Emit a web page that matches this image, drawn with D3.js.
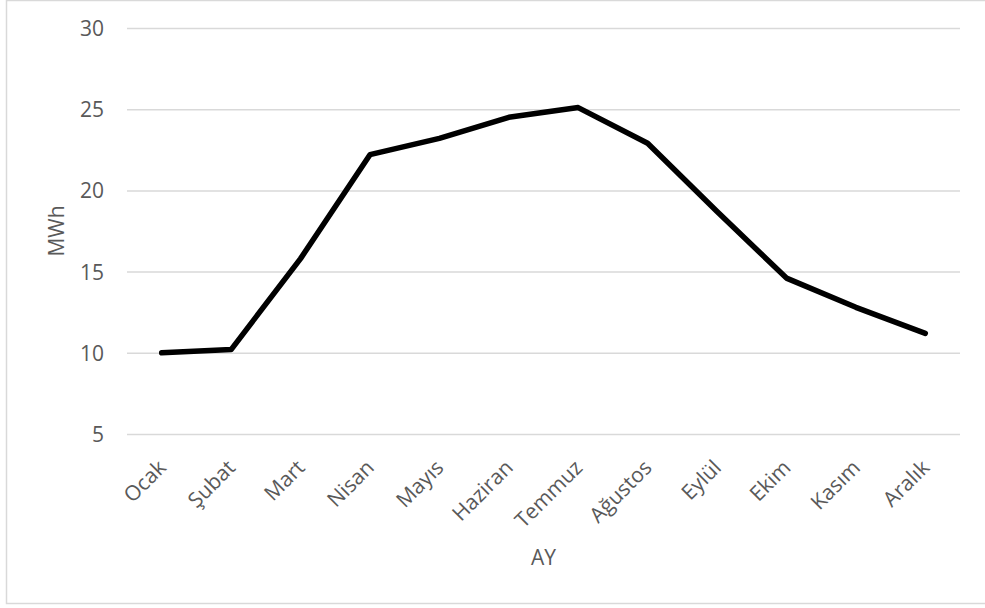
<!DOCTYPE html>
<html>
<head>
<meta charset="utf-8">
<script src="https://cdn.jsdelivr.net/npm/d3@7"></script>
<style>
  html, body { margin: 0; padding: 0; background: #fff; }
  svg { display: block; }
</style>
</head>
<body>
<svg id="chart" width="985" height="608"></svg>
<script>
// Monthly energy output (MWh)
const months = ["Ocak", "Şubat", "Mart", "Nisan", "Mayıs", "Haziran",
                "Temmuz", "Ağustos", "Eylül", "Ekim", "Kasım", "Aralık"];
const values = [10.0, 10.2, 15.8, 22.2, 23.2, 24.5, 25.1, 22.9, 18.7, 14.6, 12.8, 11.2];
const yTicks = [5, 10, 15, 20, 25, 30];
const yTitle = "MWh";
const xTitle = "AY";

const FONT = "'Open Sans', 'Noto Sans', sans-serif";
const svg = d3.select("#chart").attr("font-family", FONT);
const W = 985, H = 608;
const plot = { left: 127, right: 960, top: 28, bottom: 434 };
const textColor = "#595959";
const gridColor = "#d9d9d9";

// chart frame
svg.append("path")
  .attr("d", `M${W},0.5 H6.5 V603.5 H${W}`)
  .attr("fill", "none")
  .attr("stroke", gridColor)
  .attr("stroke-width", 1.5);

const x = d3.scalePoint()
  .domain(months)
  .range([plot.left, plot.right])
  .padding(0.5);

const y = d3.scaleLinear()
  .domain([5, 30])
  .range([plot.bottom, plot.top]);

// horizontal gridlines + y labels
const yAxis = d3.axisLeft(y)
  .tickValues(yTicks)
  .tickSize(-(plot.right - plot.left))
  .tickPadding(23)
  .tickFormat(d3.format("d"));

const gy = svg.append("g")
  .attr("transform", `translate(${plot.left},0)`)
  .call(yAxis)
  .attr("font-family", FONT)
  .attr("font-size", 21);
gy.select(".domain").remove();
gy.selectAll(".tick line").attr("stroke", gridColor).attr("stroke-width", 1.5);
gy.selectAll(".tick text")
  .attr("fill", textColor)
  .attr("dy", "0.36em");

// x category labels, rotated
const xAxis = d3.axisBottom(x).tickSize(0).tickPadding(0);
const gx = svg.append("g")
  .attr("transform", `translate(0,${plot.bottom})`)
  .call(xAxis)
  .attr("font-family", FONT)
  .attr("font-size", 21);
gx.select(".domain").remove();
gx.selectAll(".tick text")
  .attr("fill", textColor)
  .attr("text-anchor", "end")
  .attr("dy", 0)
  .attr("y", 0)
  .attr("transform", "translate(5,35) rotate(-45)");

// the series line
const line = d3.line()
  .x((d, i) => x(months[i]))
  .y(d => y(d));

svg.append("path")
  .datum(values)
  .attr("d", line)
  .attr("fill", "none")
  .attr("stroke", "#000")
  .attr("stroke-width", 5.5)
  .attr("stroke-linejoin", "round")
  .attr("stroke-linecap", "round");

// axis titles
svg.append("text")
  .attr("transform", `translate(64,${(plot.top + plot.bottom) / 2}) rotate(-90)`)
  .attr("text-anchor", "middle")
  .attr("fill", textColor)
  .attr("font-size", 21)
  .text(yTitle);

svg.append("text")
  .attr("x", (plot.left + plot.right) / 2)
  .attr("y", 565)
  .attr("text-anchor", "middle")
  .attr("fill", textColor)
  .attr("font-size", 21)
  .text(xTitle);
</script>
</body>
</html>
